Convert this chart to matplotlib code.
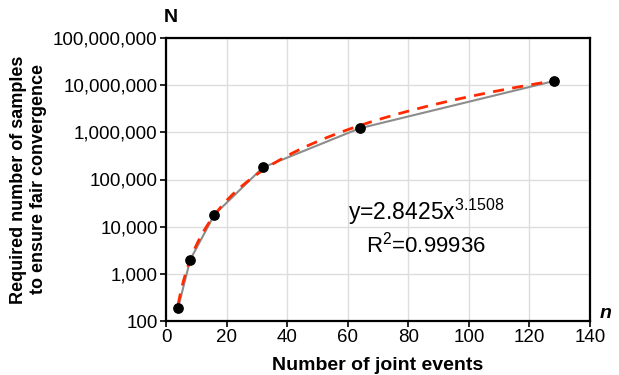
import numpy as np
import matplotlib
matplotlib.use("Agg")
import matplotlib.pyplot as plt
from matplotlib.ticker import FuncFormatter, LogLocator

# joint events vs required number of samples
n_events = [4, 8, 16, 32, 64, 128]
n_samples = [190, 2000, 18000, 180000, 1220000, 12200000]

# power-law trendline coefficients (as printed on the chart)
fit_a = 2.8425
fit_b = 3.1508
fit_r2 = 0.99936

plt.rcParams["font.family"] = ["Liberation Sans", "DejaVu Sans"]
plt.rcParams["mathtext.fontset"] = "custom"
plt.rcParams["mathtext.rm"] = "Liberation Sans"

fig = plt.figure(figsize=(6.19, 3.75), dpi=100)
ax = fig.add_axes([166 / 619, 1 - 321 / 375, (590 - 166) / 619, (321 - 38) / 375])

ax.set_yscale("log")
ax.set_xlim(0, 140)
ax.set_ylim(100, 1e8)
ax.set_xticks(range(0, 141, 20))
ax.yaxis.set_major_locator(LogLocator(base=10, numticks=10))
ax.yaxis.set_minor_locator(LogLocator(base=10, subs=[], numticks=10))
ax.yaxis.set_major_formatter(FuncFormatter(lambda v, _: f"{int(round(v)):,}"))
ax.grid(True, color="#dddddd", lw=1.0)
ax.set_axisbelow(True)
for s in ax.spines.values():
    s.set_color("black")
    s.set_linewidth(1.6)
ax.tick_params(labelsize=13.5, length=4, width=1.2, color="black", pad=2)

ax.plot(n_events, n_samples, color="#8c8c8c", lw=1.5, zorder=2)
xf = np.linspace(min(n_events), max(n_events), 300)
ax.plot(xf, fit_a * xf ** fit_b, color="#ff2a00", lw=2.0, ls=(0, (4, 3)), zorder=3)
ax.scatter(n_events, n_samples, s=45, color="black", zorder=4)

ax.text(0.613, 0.385, f"y={fit_a}x$^{{{fit_b}}}$", transform=ax.transAxes,
        ha="center", va="center", fontsize=16.5)
ax.text(0.613, 0.27, f"R$^{{2}}$={fit_r2}", transform=ax.transAxes,
        ha="center", va="center", fontsize=16)

ax.set_xlabel("Number of joint events", fontsize=14, fontweight="bold", labelpad=8)
ax.set_ylabel("Required number of samples\nto ensure fair convergence",
              fontsize=13, fontweight="bold", labelpad=4, linespacing=1.3)
fig.text(171 / 619, 1 - 18 / 375, "N", fontsize=14, fontweight="bold", ha="center", va="center")
fig.text(606 / 619, 1 - 314 / 375, "n", fontsize=14, fontweight="bold", style="italic",
         ha="center", va="center")

fig.savefig("out.png", dpi=100)
